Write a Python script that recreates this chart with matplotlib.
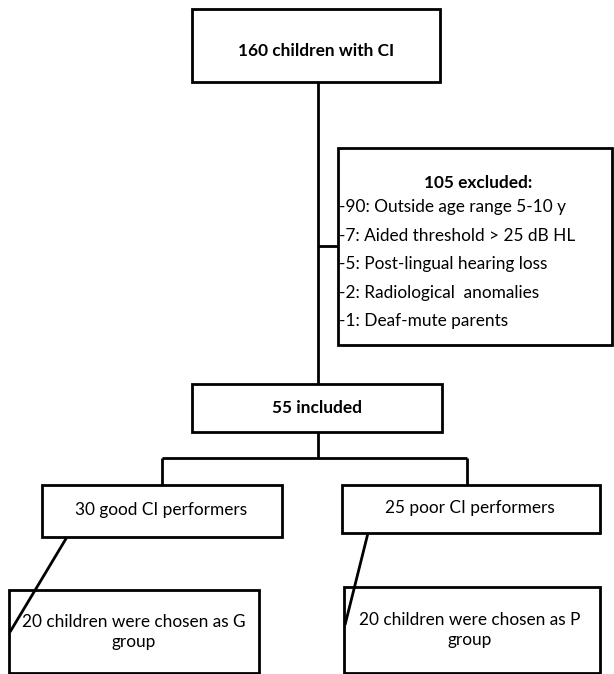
import matplotlib.pyplot as plt
from matplotlib.patches import Rectangle

plt.rcParams['font.family'] = ['Lato', 'DejaVu Sans']

# flowchart content
total_label = "160 children with CI"
excluded_title = "105 excluded:"
excluded_counts = [90, 7, 5, 2, 1]
excluded_reasons = ["Outside age range 5-10 y", "Aided threshold > 25 dB HL",
                    "Post-lingual hearing loss", "Radiological  anomalies",
                    "Deaf-mute parents"]
included_label = "55 included"
group_labels = ["30 good CI performers", "25 poor CI performers"]
chosen_labels = ["20 children were chosen as G\ngroup", "20 children were chosen as P\ngroup"]

W, H = 614, 674
fig = plt.figure(figsize=(W / 100, H / 100), dpi=100)
ax = fig.add_axes([0, 0, 1, 1])
ax.set_xlim(0, W)
ax.set_ylim(H, 0)
ax.axis('off')

LW = 2.0
FS = 12.4


def box(x0, y0, x1, y1):
    ax.add_patch(Rectangle((x0, y0), x1 - x0, y1 - y0, fill=False,
                           edgecolor='black', lw=LW))


def line(xs, ys):
    ax.plot(xs, ys, color='black', lw=LW, solid_capstyle='butt')


# top box
box(192, 9, 440, 82)
ax.text(316, 51, total_label, ha='center', va='center', fontsize=FS, fontweight='bold')

# main trunk
line([318, 318], [82, 384])
line([318, 338], [246, 246])

# exclusion box
box(338, 148, 612, 345)
ax.text(478, 183, excluded_title, ha='center', va='center', fontsize=FS, fontweight='bold')
for i, (n, r) in enumerate(zip(excluded_counts, excluded_reasons)):
    ax.text(339, 207 + i * 28.6, "-%d: %s" % (n, r), ha='left', va='center', fontsize=FS)

# included box
box(192, 384, 442, 432)
ax.text(317, 408, included_label, ha='center', va='center', fontsize=FS, fontweight='bold')

# split
line([318, 318], [432, 458])
line([162, 467], [458, 458])
line([162, 162], [458, 485])
line([467, 467], [458, 485])

# group boxes
box(42, 485, 282, 537)
ax.text(161, 510, group_labels[0], ha='center', va='center', fontsize=FS)
box(342, 485, 600, 533)
ax.text(470, 508, group_labels[1], ha='center', va='center', fontsize=FS)

# chosen boxes
box(9, 590, 259, 673)
ax.text(134, 632, chosen_labels[0], ha='center', va='center', fontsize=FS, linespacing=1.25)
box(344, 587, 600, 673)
ax.text(470, 630, chosen_labels[1], ha='center', va='center', fontsize=FS, linespacing=1.25)

# diagonal connectors
line([67, 10], [537, 632])
line([368, 345], [533, 625])

fig.savefig("out.png", dpi=100)
